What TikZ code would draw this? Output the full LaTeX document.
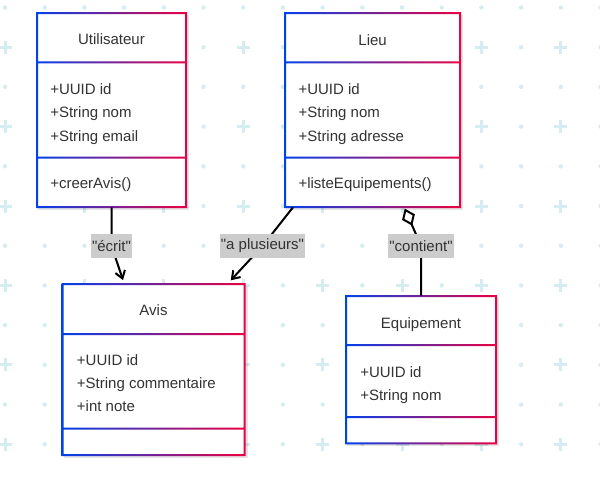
\documentclass[tikz,border=0pt]{standalone}
\usepackage{fontspec}
\setmainfont{Liberation Sans}[Ligatures=TeXOff]
\usetikzlibrary{arrows.meta,calc,fit}
\definecolor{gblue}{HTML}{0042EB}
\definecolor{gred}{HTML}{EB0042}
\definecolor{gridc}{HTML}{D5ECF0}
\definecolor{txt}{HTML}{333333}
\definecolor{lblbg}{HTML}{CCCCCC}
\newcommand{\umlframe}[6]{%
  \fill[black,opacity=0.10] (#1+1,#2+2) rectangle (#3+3,#4+3);
  \fill[white] (#1,#2) rectangle (#3,#4);
  \shade[left color=gblue,right color=gred,even odd rule]
    (#1-1,#2-1) rectangle (#3+1,#4+1)
    (#1+1,#2+1) rectangle (#3-1,#5-1)
    (#1+1,#5+1) rectangle (#3-1,#6-1)
    (#1+1,#6+1) rectangle (#3-1,#4-1);
}
\tikzset{
  ttl/.style={anchor=base,inner sep=0pt,text=txt,font=\fontsize{11.25}{13.5}\selectfont},
  attr/.style={anchor=base west,inner sep=0pt,text=txt,font=\fontsize{11.25}{13.5}\selectfont},
  lbl/.style={fill=lblbg,text=txt,inner xsep=0.75pt,inner ysep=0pt,minimum height=18pt,font=\fontsize{11.25}{13.5}\selectfont},
  conn/.style={draw=black,line width=1.5pt},
  boxname/.style={inner sep=0pt,draw=none},
}
\begin{document}
\begin{tikzpicture}[x=0.75pt,y=-0.75pt]
\useasboundingbox (0,0) rectangle (600,480);
\fill[white] (0,0) rectangle (600,480);
% background grid
\foreach \i in {0,...,15}{
  \foreach \j in {0,...,12}{
    \pgfmathsetmacro{\gx}{5+39.7*\i}
    \pgfmathsetmacro{\gy}{7.5+39.7*\j}
    \ifodd\j
      \ifodd\i
        \fill[gridc] (\gx,\gy) circle[radius=2.2];
      \else
        \draw[gridc,line width=2.25pt] (\gx-6.5,\gy) -- (\gx+6.5,\gy) (\gx,\gy-6.5) -- (\gx,\gy+6.5);
      \fi
    \else
      \fill[gridc] (\gx,\gy) circle[radius=2.2];
    \fi
  }
}
% class frames
\umlframe{37}{13}{186}{207}{62.3}{157.7}
\umlframe{285}{13}{460}{207}{62.3}{157.7}
\umlframe{62.5}{284}{244.5}{455}{334}{428.7}
\umlframe{346}{296}{496}{443.3}{345}{417}
% named class nodes
\node[boxname,fit={(37,13) (186,207)}] (user) {};
\node[boxname,fit={(285,13) (460,207)}] (lieu) {};
\node[boxname,fit={(62.5,284) (244.5,455)}] (avis) {};
\node[boxname,fit={(346,296) (496,443.3)}] (equip) {};
% texts
\node[ttl] (tuser) at (111.5,44.8) {Utilisateur};
\node[attr] (u1) at (50,94.3) {+UUID id};
\node[attr] (u2) at (50,117.7) {+String nom};
\node[attr] (u3) at (50,141.1) {+String email};
\node[attr] (u4) at (50,188.7) {+creerAvis()};
\node[ttl] (tlieu) at (372.6,45) {Lieu};
\node[attr] (l1) at (298.3,94.3) {+UUID id};
\node[attr] (l2) at (298.3,117.7) {+String nom};
\node[attr] (l3) at (298.3,141.1) {+String adresse};
\node[attr] (l4) at (298.3,188.7) {+listeEquipements()};
\node[ttl] (tavis) at (153.5,315.9) {Avis};
\node[attr] (a1) at (76.7,365) {+UUID id};
\node[attr] (a2) at (76.7,388.4) {+String commentaire};
\node[attr] (a3) at (76.7,411.8) {+int note};
\node[ttl] (tequip) at (421,328) {Equipement};
\node[attr] (e1) at (360,377.2) {+UUID id};
\node[attr] (e2) at (360,400.6) {+String nom};
% connector end points
\coordinate (t1) at ($(avis.north west)+(60.8,-3.6)$);
\coordinate (s2) at ($(lieu.south west)+(8.3,0)$);
\coordinate (t2) at ($(avis.north west)+(168.5,-3.4)$);
\coordinate (t3) at ($(lieu.south west)+(120,1.3)$);
% connectors
\draw[conn,-{Straight Barb[length=5.5pt,width=7.5pt]}]
  (user.south) -- ++(0,38.5) node[lbl] (le) {"écrit"} -- (t1);
\draw[conn,-{Straight Barb[length=5.5pt,width=7.5pt]}]
  (s2) -- (262.5,246) node[lbl] (lp) {"a plusieurs"} -- (t2);
\draw[conn,-{Diamond[fill=white,length=14pt,width=10.5pt]}]
  (equip.north) -- ++(0,-50) node[lbl] (lc) {"contient"} -- (t3);
\end{tikzpicture}
\end{document}
